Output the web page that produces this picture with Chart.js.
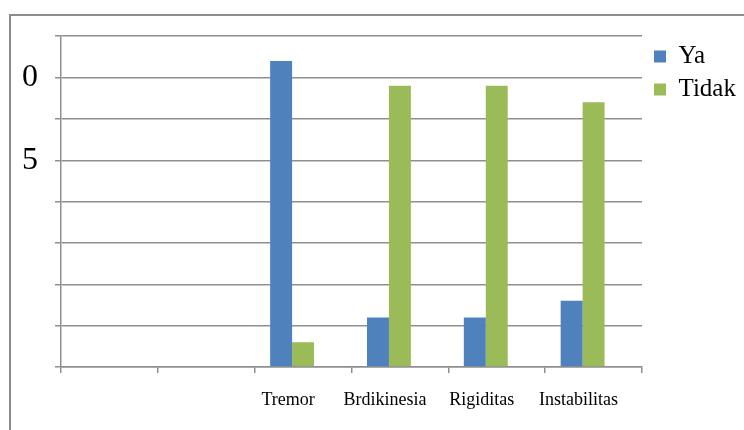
<!DOCTYPE html>
<html>
<head>
<meta charset="utf-8">
<script src="https://cdn.jsdelivr.net/npm/chart.js@4/dist/chart.umd.min.js"></script>
<style>
    html, body { margin: 0; padding: 0; background: #fff; overflow: hidden; }
    #wrap { position: relative; width: 744px; height: 430px; }
    #frame {
        position: absolute; left: 9px; top: 14px;
        width: 800px; height: 500px;
        border: 2px solid #8c8c8c; box-sizing: border-box;
        pointer-events: none;
    }
    canvas { position: absolute; left: 0; top: 0; }
</style>
</head>
<body>
<div id="wrap">
    <div id="frame"></div>
    <canvas id="gejalaChart" width="744" height="430"></canvas>
</div>
<script>
// --- Data ---
const categories = ['', '', 'Tremor', 'Brdikinesia', 'Rigiditas', 'Instabilitas'];
const yaValues = [null, null, 37, 6, 6, 8];
const tidakValues = [null, null, 3, 34, 34, 32];
const emptySeries = [null, null, null, null, null, null];
const yTickValues = [0, 5, 10, 15, 20, 25, 30, 35, 40];
const yTickLabels = ['', '', '', '', '', '5', '', '0', ''];

let gejalaChart;

document.addEventListener("DOMContentLoaded", () => {
    drawChart();
});

function drawChart() {
    const serif = "'Liberation Serif', 'Times New Roman', serif";
    const gridColor = '#8f8f8f';

    const ctx = document.getElementById("gejalaChart");
    gejalaChart?.destroy();
    gejalaChart = new Chart(ctx, {
        type: "bar",
        data: {
            labels: categories,
            datasets: [
                { label: "Ya", data: yaValues, backgroundColor: '#4F81BD' },
                { label: "Tidak", data: tidakValues, backgroundColor: '#9BBB59' },
                // third (empty) series keeps the Excel-style group offset
                { label: "", data: emptySeries, backgroundColor: '#C0504D' }
            ]
        },
        options: {
            responsive: false,
            animation: false,
            categoryPercentage: 0.68,
            barPercentage: 1,
            layout: { padding: { top: 36, left: 0, right: 0, bottom: 0 } },
            plugins: {
                tooltip: { enabled: false },
                legend: {
                    position: 'right',
                    align: 'start',
                    maxWidth: 98,
                    labels: {
                        boxWidth: 12,
                        boxHeight: 12,
                        padding: 8,
                        color: '#000',
                        font: { family: serif, size: 25 },
                        filter: item => item.text !== ''
                    }
                }
            },
            scales: {
                x: {
                    grid: {
                        offset: true,
                        drawOnChartArea: false,
                        drawTicks: true,
                        tickLength: 6,
                        color: gridColor,
                        lineWidth: 1.5
                    },
                    border: { display: true, color: gridColor, width: 1.5 },
                    ticks: {
                        color: '#000',
                        padding: 16,
                        labelOffset: -15,
                        maxRotation: 0,
                        autoSkip: false,
                        font: { family: serif, size: 18 }
                    },
                    afterFit: s => { s.height = 63; }
                },
                y: {
                    min: 0,
                    max: 40,
                    grid: { color: gridColor, lineWidth: 1.5, tickLength: 6 },
                    border: { display: true, color: gridColor, width: 1.5 },
                    ticks: {
                        stepSize: 5,
                        autoSkip: false,
                        padding: 17,
                        color: '#000',
                        font: { family: serif, size: 32 },
                        callback: v => {
                            const i = yTickValues.indexOf(v);
                            return i >= 0 ? yTickLabels[i] : '';
                        }
                    },
                    afterFit: s => { s.width = 61; }
                },
                // spacer between plot and legend
                gap: {
                    type: 'linear',
                    position: 'right',
                    display: true,
                    grid: { display: false },
                    border: { display: false },
                    ticks: { display: false },
                    afterFit: s => { s.width = 4; }
                }
            }
        }
    });
}
</script>
</body>
</html>
